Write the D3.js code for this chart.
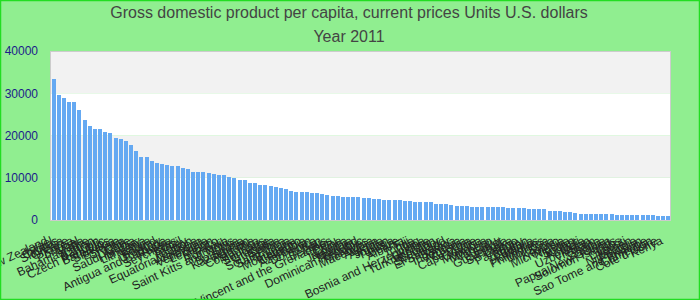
<!DOCTYPE html>
<html>
<head>
<meta charset="utf-8">
<script src="https://cdn.jsdelivr.net/npm/d3@7"></script>
<style>
  html, body { margin: 0; padding: 0; background: #90EE90; }
  svg { display: block; }
</style>
</head>
<body>
<svg id="chart" width="700" height="300"></svg>
<script>
const titleLines = ["Gross domestic product per capita, current prices Units U.S. dollars", "Year 2011"];

const countries = [
  "New Zealand", "Israel", "Cyprus", "Slovenia", "Greece", "Korea", "Portugal", "Malta",
  "Bahamas, The", "Oman", "Bahrain", "Czech Republic", "Barbados", "Slovakia", "Estonia", "Croatia",
  "Chile", "Saudi Arabia", "Hungary", "Lithuania", "Latvia", "Poland", "Uruguay", "Antigua and Barbuda",
  "Russia", "Seychelles", "Brazil", "Turkey", "Gabon", "Equatorial Guinea", "Argentina", "Venezuela",
  "Lebanon", "Mexico", "Palau", "Romania", "Saint Kitts and Nevis", "Libya", "Botswana", "Kazakhstan",
  "Panama", "Costa Rica", "Mauritius", "Suriname", "Grenada", "Serbia", "South Africa", "Saint Lucia",
  "Bulgaria", "Montenegro", "Colombia", "Azerbaijan", "Dominica", "Iran", "Belarus", "Saint Vincent and the Grenadines",
  "Peru", "China", "Jamaica", "Namibia", "Thailand", "Dominican Republic", "Maldives", "Macedonia",
  "Algeria", "Angola", "Jordan", "Tunisia", "Belize", "Albania", "Fiji", "Tonga",
  "Iraq", "Bosnia and Herzegovina", "Ukraine", "Turkmenistan", "Ecuador", "Swaziland", "El Salvador", "Samoa",
  "Indonesia", "Armenia", "Georgia", "Cape Verde", "Guyana", "Mongolia", "Morocco", "Vanuatu",
  "Egypt", "Guatemala", "Sri Lanka", "Congo", "Paraguay", "Bhutan", "Bolivia", "Honduras",
  "Philippines", "Moldova", "Syria", "Kosovo", "Micronesia", "Nigeria", "Sudan", "Kiribati",
  "India", "Uzbekistan", "Vietnam", "Ghana", "Zambia", "Papua New Guinea", "Solomon Islands", "Laos",
  "Djibouti", "Yemen", "Nicaragua", "Pakistan", "Sao Tome and Principe", "Cameroon", "Cote d'Ivoire", "Kenya"
];

const gdpValues = [
  33360, 29580, 28870, 27920, 27920, 26030, 23660, 22240,
  21530, 21530, 20820, 20580, 19400, 19160, 18690, 17750,
  16330, 14910, 14910, 13960, 13490, 13250, 13020, 12780,
  12780, 12300, 12070, 11360, 11360, 11360, 11120, 10880,
  10650, 10650, 10170, 9940, 9460, 9460, 8750, 8750,
  8280, 8280, 8040, 7810, 7570, 7330, 6860, 6620,
  6620, 6620, 6390, 6390, 6150, 5920, 5680, 5680,
  5440, 5440, 5440, 5440, 5210, 5210, 4970, 4970,
  4730, 4730, 4730, 4730, 4500, 4500, 4260, 4260,
  4260, 4260, 3790, 3790, 3790, 3550, 3310, 3310,
  3310, 3080, 3080, 3080, 3080, 3080, 3080, 3080,
  2840, 2840, 2840, 2840, 2600, 2600, 2600, 2600,
  2130, 2130, 2130, 1890, 1890, 1660, 1420, 1420,
  1420, 1420, 1420, 1420, 1420, 1180, 1180, 1180,
  1180, 1180, 1180, 1180, 1180, 950, 950, 950
];

const yTicks = [0, 10000, 20000, 30000, 40000];

const W = 700, H = 300;
const plot = { left: 50, right: 670, top: 51, bottom: 220 };

const svg = d3.select("#chart");

svg.append("rect").attr("x", 0).attr("y", 0).attr("width", W).attr("height", H)
  .attr("fill", "#90EE90");

// Title
svg.append("g").selectAll("text").data(titleLines).join("text")
  .attr("x", 349).attr("y", (d, i) => 18 + i * 23.5)
  .attr("text-anchor", "middle")
  .attr("font-family", "Liberation Sans, Arial, sans-serif")
  .attr("font-size", 16)
  .attr("fill", "#444")
  .text(d => d);

const data = countries.map((c, i) => ({ name: c, value: gdpValues[i] }));

const x = d3.scaleBand().domain(countries).range([plot.left + 1.5, plot.right + 0.5]).paddingInner(0.2).paddingOuter(0);
const y = d3.scaleLinear().domain([0, 40000]).range([plot.bottom, plot.top]);

// Plot background bands
const bands = d3.pairs(yTicks);
svg.append("g").selectAll("rect").data(bands).join("rect")
  .attr("x", plot.left).attr("width", plot.right - plot.left)
  .attr("y", d => y(d[1])).attr("height", d => y(d[0]) - y(d[1]))
  .attr("fill", (d, i) => i % 2 === 0 ? "#ffffff" : "#f2f2f2");

// Bars
svg.append("g").selectAll("rect").data(data).join("rect")
  .attr("x", d => Math.round(x(d.name)))
  .attr("width", Math.round(x.bandwidth()))
  .attr("y", d => Math.round(y(d.value)))
  .attr("height", d => plot.bottom - Math.round(y(d.value)))
  .attr("fill", "#65a9f2");

// Plot border
svg.append("rect")
  .attr("x", plot.left + 0.5).attr("y", plot.top + 0.5)
  .attr("width", plot.right - plot.left).attr("height", plot.bottom - plot.top)
  .attr("fill", "none").attr("stroke", "#cccccc").attr("stroke-width", 1);

// Y axis
const yAxis = d3.axisLeft(y).tickValues(yTicks).tickSize(0).tickPadding(12).tickFormat(d3.format("d"));
const gy = svg.append("g").attr("transform", `translate(${plot.left},0)`).call(yAxis);
gy.select(".domain").remove();
gy.selectAll("text")
  .attr("font-family", "Liberation Sans, Arial, sans-serif")
  .attr("font-size", 12)
  .attr("fill", "#1c1c8a");

// X labels
svg.append("g").selectAll("text").data(data).join("text")
  .attr("transform", d => `translate(${x(d.name) + x.bandwidth() / 2 - 5},243.5) rotate(-25)`)
  .attr("text-anchor", "end")
  .attr("font-family", "Liberation Sans, Arial, sans-serif")
  .attr("font-size", 12)
  .attr("fill", "#222")
  .text(d => d.name);

// Outer border
svg.append("rect").attr("x", 0.5).attr("y", 0.5).attr("width", W - 1).attr("height", H - 1)
  .attr("fill", "none").attr("stroke", "#22dd22").attr("stroke-width", 1.5);
</script>
</body>
</html>
